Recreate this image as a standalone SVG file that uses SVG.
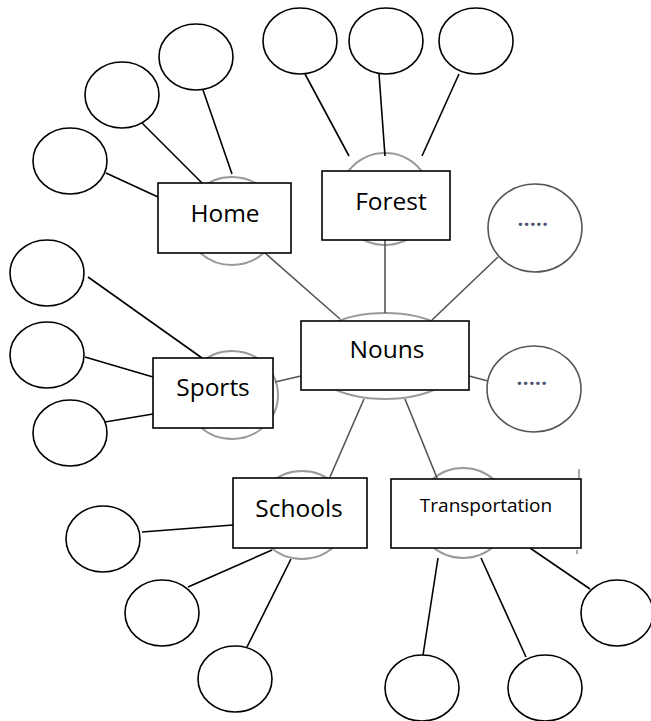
<svg xmlns="http://www.w3.org/2000/svg" width="651" height="721" viewBox="0 0 651 721">
<style>
.bg{fill:#fff}
.ghost{fill:#fff;stroke:#9a9a9a;stroke-width:2}
.dot{fill:#fff;stroke:#555;stroke-width:1.6}
.leaf{fill:#fff;stroke:#000;stroke-width:1.6}
.box{fill:#fff;stroke:#000;stroke-width:1.6}
.lbl{font-family:"Open Sans","Noto Sans",sans-serif;font-size:24.5px;fill:#000;text-anchor:middle}
.small{font-size:19px}
.dots{font-family:"Open Sans",sans-serif;font-size:20px;font-weight:bold;fill:#4a5270;text-anchor:middle;letter-spacing:0.5px}
.c1{stroke:#000;stroke-width:1.6;fill:none}
.c2{stroke:#555;stroke-width:1.6;fill:none}
.art{stroke:#aaa;stroke-width:2}
</style>
<rect class="bg" width="651" height="721"/>
<g id="ghosts">
<ellipse class="ghost" cx="232" cy="221" rx="46" ry="44"/>
<ellipse class="ghost" cx="385" cy="199" rx="46" ry="46"/>
<ellipse class="ghost" cx="385" cy="356" rx="80" ry="43"/>
<ellipse class="ghost" cx="232" cy="395" rx="46" ry="44"/>
<ellipse class="ghost" cx="302" cy="515" rx="46" ry="44"/>
<ellipse class="ghost" cx="463" cy="513" rx="46" ry="45"/>
</g>
<g id="connectors">
<line class="c2" x1="265" y1="253" x2="340" y2="319"/>
<line class="c2" x1="385" y1="240" x2="385" y2="313"/>
<line class="c2" x1="432" y1="320" x2="498" y2="257"/>
<line class="c2" x1="275" y1="382" x2="301" y2="376"/>
<line class="c2" x1="469" y1="376" x2="488" y2="381"/>
<line class="c2" x1="364" y1="399" x2="330" y2="477"/>
<line class="c2" x1="405" y1="399" x2="437" y2="478"/>
<line class="c1" x1="203" y1="90" x2="232" y2="174"/>
<line class="c1" x1="138" y1="119" x2="202" y2="183"/>
<line class="c1" x1="106" y1="173" x2="158" y2="197"/>
<line class="c1" x1="305" y1="74" x2="349" y2="156"/>
<line class="c1" x1="379" y1="74" x2="385" y2="156"/>
<line class="c1" x1="459" y1="74" x2="422" y2="156"/>
<line class="c1" x1="88" y1="277" x2="202" y2="358"/>
<line class="c1" x1="85" y1="357" x2="153" y2="377"/>
<line class="c1" x1="105" y1="422" x2="153" y2="414"/>
<line class="c1" x1="142" y1="532" x2="233" y2="525"/>
<line class="c1" x1="188" y1="587" x2="272" y2="550"/>
<line class="c1" x1="247" y1="647" x2="291" y2="559"/>
<line class="c1" x1="530" y1="548" x2="590" y2="589"/>
<line class="c1" x1="438" y1="558" x2="423" y2="655"/>
<line class="c1" x1="481" y1="558" x2="526" y2="657"/>
<line class="art" x1="579" y1="469" x2="579" y2="478"/>
<line class="art" x1="577" y1="550" x2="577" y2="554"/>
</g>
<g id="home-leaf-1"><ellipse class="leaf" cx="196" cy="57" rx="37" ry="33"/></g>
<g id="home-leaf-2"><ellipse class="leaf" cx="122" cy="95" rx="37" ry="33"/></g>
<g id="home-leaf-3"><ellipse class="leaf" cx="70" cy="161" rx="37" ry="33"/></g>
<g id="forest-leaf-1"><ellipse class="leaf" cx="300" cy="41" rx="37" ry="33"/></g>
<g id="forest-leaf-2"><ellipse class="leaf" cx="386" cy="41" rx="37" ry="33"/></g>
<g id="forest-leaf-3"><ellipse class="leaf" cx="476" cy="41" rx="37" ry="33"/></g>
<g id="sports-leaf-1"><ellipse class="leaf" cx="47" cy="273" rx="37" ry="33"/></g>
<g id="sports-leaf-2"><ellipse class="leaf" cx="47" cy="355" rx="37" ry="33"/></g>
<g id="sports-leaf-3"><ellipse class="leaf" cx="70" cy="433" rx="37" ry="33"/></g>
<g id="schools-leaf-1"><ellipse class="leaf" cx="103" cy="539" rx="37" ry="33"/></g>
<g id="schools-leaf-2"><ellipse class="leaf" cx="162" cy="613" rx="37" ry="33"/></g>
<g id="schools-leaf-3"><ellipse class="leaf" cx="235" cy="679" rx="37" ry="33"/></g>
<g id="transport-leaf-1"><ellipse class="leaf" cx="617" cy="613" rx="36" ry="33"/></g>
<g id="transport-leaf-2"><ellipse class="leaf" cx="422" cy="688" rx="37" ry="33"/></g>
<g id="transport-leaf-3"><ellipse class="leaf" cx="545" cy="688" rx="37" ry="33"/></g>
<g id="more-1"><ellipse class="dot" cx="535" cy="228" rx="47" ry="44"/><text class="dots" x="533" y="226">.....</text></g>
<g id="more-2"><ellipse class="dot" cx="534" cy="389" rx="47" ry="43"/><text class="dots" x="532" y="385">.....</text></g>
<g id="home"><rect class="box" x="158" y="183" width="133" height="70"/><text class="lbl" x="225" y="222">Home</text></g>
<g id="forest"><rect class="box" x="322" y="171" width="128" height="69"/><text class="lbl" x="391" y="210">Forest</text></g>
<g id="nouns"><rect class="box" x="301" y="321" width="168" height="69"/><text class="lbl" x="387" y="358">Nouns</text></g>
<g id="sports"><rect class="box" x="153" y="358" width="120" height="70"/><text class="lbl" x="213" y="396">Sports</text></g>
<g id="schools"><rect class="box" x="233" y="478" width="134" height="70"/><text class="lbl" x="299" y="517">Schools</text></g>
<g id="transportation"><rect class="box" x="391" y="479" width="190" height="69"/><text class="lbl small" x="486" y="512">Transportation</text></g>
</svg>
